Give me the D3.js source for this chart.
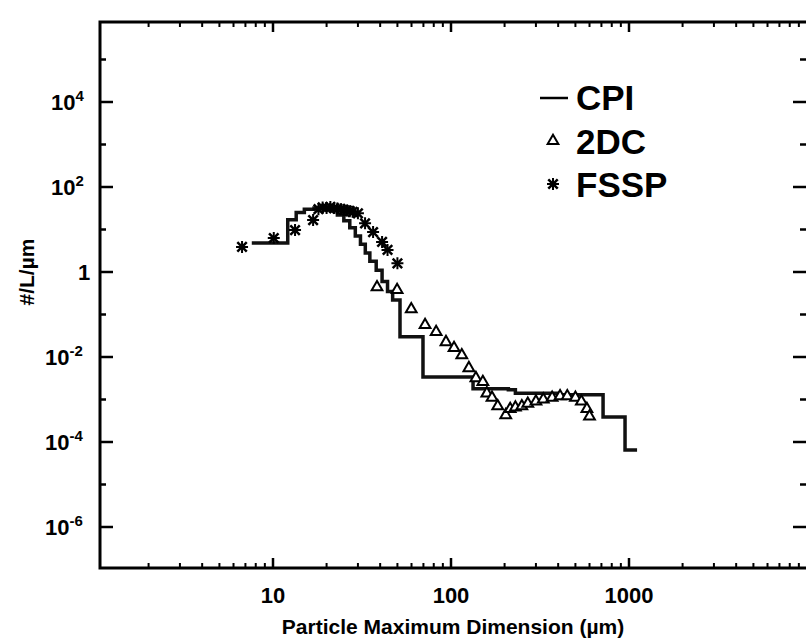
<!DOCTYPE html>
<html><head><meta charset="utf-8">
<script src="https://cdn.jsdelivr.net/npm/d3@7"></script>
<style>body{margin:0;background:#fff}text{font-family:"Liberation Sans",Arial,sans-serif;font-weight:bold}</style>
</head><body><svg id="c" width="806" height="642"></svg>
<script>
// CPI step line: bin start edge and value
var cpiEdge = [7.6,12.1,13.5,15,17,19,21,23,25,27,29,31,33,35,38,41,44,47,51.7,69.6,133,210,230,400,715,950,1110];
var cpiVal  = [4.8,17,25,30,32,31,28,22,16,11,7,4.5,2.8,1.8,1.1,0.6,0.35,0.22,0.03,0.0034,0.0018,0.0017,0.0014,0.0013,3.9e-4,6.5e-5,6.5e-5];
var dcSize = [38.4,49.8,59.8,71.5,82.5,93.7,104,115,126,138,151,159,170,183,203,215,230,250,270,300,330,370,410,450,500,540,580,600];
var dcVal  = [0.44,0.38,0.134,0.057,0.039,0.0225,0.0163,0.011,0.0055,0.0032,0.0026,0.0014,0.0011,7e-4,4.3e-4,6e-4,6.5e-4,7e-4,8e-4,9e-4,1e-3,1.1e-3,1.2e-3,1.2e-3,1.1e-3,9e-4,6e-4,4e-4];
var fsspSize = [6.7,10.1,13.3,16.8,18,19,20,21,22,23,24,25,26,27,28,30,32.9,36.5,41,44,50];
var fsspVal  = [3.9,6.3,9.7,16.7,30,33,32,34,32,31,30,29,28,27,26,24,14,8.7,5.1,3.3,1.6];
var xTickVals = [10,100,1000];
var yTickExp = [4,2,0,-2,-4,-6];

var svg = d3.select("#c");
var x = d3.scaleLog().domain([1,10000]).range([95,807]);
var y = d3.scaleLog().domain([1e-6,1e4]).range([527,102]);
var L = 100, R = 806, T = 22, B = 568;

// frame
svg.append("path").attr("d","M"+R+","+T+"H"+L+"V"+B+"H"+R)
   .attr("fill","none").attr("stroke","#000").attr("stroke-width",3);

// x ticks (bottom + top)
var xMinor = [];
[1,10,100,1000].forEach(function(b){for(var k=2;k<=9;k++) xMinor.push(b*k)});
xMinor = xMinor.filter(function(d){return x(d)>L && x(d)<R});
[B,T].forEach(function(yy){
  var s = yy==B ? -1 : 1;
  svg.selectAll(null).data(xMinor).enter().append("line")
     .attr("x1",function(d){return x(d)}).attr("x2",function(d){return x(d)})
     .attr("y1",yy).attr("y2",yy+s*5).attr("stroke","#000").attr("stroke-width",2);
  svg.selectAll(null).data(xTickVals).enter().append("line")
     .attr("x1",function(d){return x(d)}).attr("x2",function(d){return x(d)})
     .attr("y1",yy).attr("y2",yy+s*10).attr("stroke","#000").attr("stroke-width",2.5);
});
svg.selectAll(null).data(xTickVals).enter().append("text")
   .attr("x",function(d){return x(d)}).attr("y",603).attr("text-anchor","middle")
   .attr("font-size",22).text(function(d){return d});

// y ticks
var yMinorExp = [5,3,1,-1,-3,-5];
[L,R].forEach(function(xx){
  var s = xx==L ? 1 : -1;
  svg.selectAll(null).data(yMinorExp).enter().append("line")
     .attr("y1",function(e){return y(Math.pow(10,e))}).attr("y2",function(e){return y(Math.pow(10,e))})
     .attr("x1",xx).attr("x2",xx+s*6).attr("stroke","#000").attr("stroke-width",2.5);
  svg.selectAll(null).data(yTickExp).enter().append("line")
     .attr("y1",function(e){return y(Math.pow(10,e))}).attr("y2",function(e){return y(Math.pow(10,e))})
     .attr("x1",xx).attr("x2",xx+s*13).attr("stroke","#000").attr("stroke-width",2.5);
});
var yl = svg.selectAll(null).data(yTickExp).enter().append("text")
   .attr("y",function(e){return y(Math.pow(10,e))+8})
   .attr("font-size",22);
yl.each(function(e){
  var t = d3.select(this);
  if(e==0){t.text("1").attr("x",78);return;}
  t.attr("x",e<0?45:51);
  t.append("tspan").text("10");
  t.append("tspan").attr("dy",-9).attr("font-size",15).text(e);
});

// axis titles
svg.append("text").attr("x",453).attr("y",634).attr("text-anchor","middle").attr("font-size",21)
   .text("Particle Maximum Dimension (µm)");
svg.append("text").attr("transform","translate(34,272) rotate(-90)").attr("text-anchor","middle")
   .attr("font-size",21).text("#/L/µm");

// CPI
var cpi = cpiEdge.map(function(d,i){return [d,cpiVal[i]]});
svg.append("path").datum(cpi)
   .attr("d",d3.line().x(function(d){return x(d[0])}).y(function(d){return y(d[1])}).curve(d3.curveStepAfter))
   .attr("fill","none").attr("stroke","#111").attr("stroke-width",3.5);

// 2DC
var tri = d3.symbol().type(d3.symbolTriangle).size(50);
svg.selectAll(null).data(dcSize).enter().append("path")
   .attr("d",tri).attr("transform",function(d,i){return "translate("+x(d)+","+y(dcVal[i])+")"})
   .attr("fill","#fff").attr("stroke","#000").attr("stroke-width",2);

// FSSP
var star = d3.symbol().type(d3.symbolTimes).size(60);
function drawStar(sel){
  sel.append("path").attr("d",star).attr("fill","none").attr("stroke","#000").attr("stroke-width",2.5);
  sel.append("path").attr("d","M0,-6V6M-6,0H6").attr("stroke","#000").attr("stroke-width",2);
}
svg.selectAll(null).data(fsspSize).enter().append("g")
   .attr("transform",function(d,i){return "translate("+x(d)+","+y(fsspVal[i])+")"})
   .call(drawStar);

// legend
svg.append("line").attr("x1",540).attr("x2",568).attr("y1",98).attr("y2",98).attr("stroke","#000").attr("stroke-width",2.5);
svg.append("path").attr("d",tri).attr("transform","translate(553,141)").attr("fill","#fff").attr("stroke","#000").attr("stroke-width",2);
svg.append("g").attr("transform","translate(553,184)").call(drawStar);
[["CPI",110],["2DC",154],["FSSP",197]].forEach(function(l){
  svg.append("text").attr("x",576).attr("y",l[1]).attr("font-size",35).text(l[0]);
});
</script></body></html>
